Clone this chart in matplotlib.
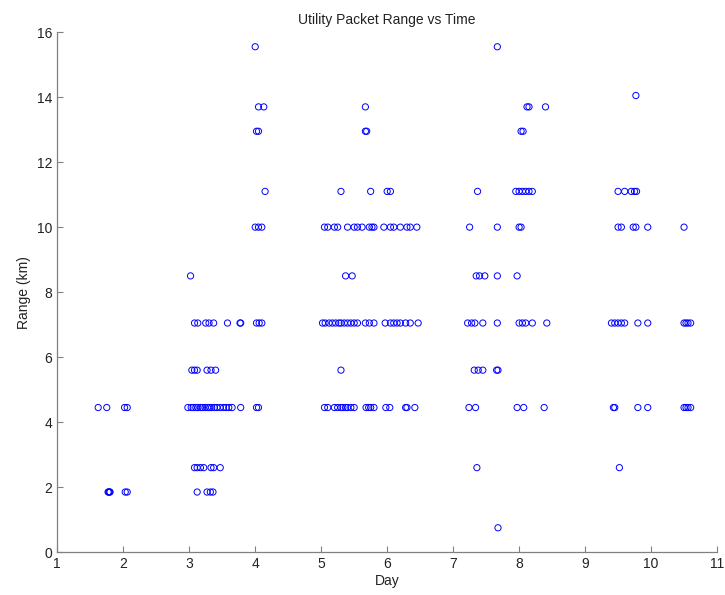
import matplotlib.pyplot as plt

# range levels (km) and the days at which a packet was seen at that range
lvl_0_75 = [7.68]
lvl_1_85 = [1.77, 1.78, 1.79, 1.80, 2.03, 2.06, 3.12, 3.27, 3.32, 3.36]
lvl_2_6 = [3.08, 3.12, 3.17, 3.22, 3.33, 3.37, 3.47, 7.36, 9.52]
lvl_4_45 = [1.62, 1.75, 2.02, 2.06,
            2.98, 3.03, 3.06, 3.10, 3.13, 3.17, 3.20, 3.24, 3.28, 3.31, 3.34, 3.38,
            3.42, 3.47, 3.52, 3.56, 3.60, 3.65, 3.78, 4.02, 4.05,
            5.05, 5.10, 5.20, 5.25, 5.30, 5.33, 5.37, 5.40, 5.45, 5.50, 5.68, 5.72,
            5.75, 5.80, 5.98, 6.04, 6.28, 6.30, 6.42,
            7.24, 7.34, 7.97, 8.07, 8.38, 9.43, 9.45, 9.80, 9.95,
            10.50, 10.53, 10.56, 10.60]
lvl_5_6 = [3.04, 3.08, 3.12, 3.27, 3.33, 3.40, 5.30, 7.32, 7.38, 7.45, 7.66, 7.68]
lvl_7_05 = [3.08, 3.13, 3.25, 3.30, 3.37, 3.58, 3.77, 3.78, 4.02, 4.06, 4.10,
            5.02, 5.06, 5.12, 5.17, 5.22, 5.27, 5.30, 5.35, 5.40, 5.45, 5.50, 5.55,
            5.67, 5.73, 5.80, 5.97, 6.05, 6.10, 6.15, 6.20, 6.28, 6.35, 6.47,
            7.22, 7.28, 7.33, 7.45, 7.67, 8.00, 8.05, 8.10, 8.20, 8.42,
            9.40, 9.45, 9.50, 9.55, 9.60, 9.80, 9.95,
            10.50, 10.53, 10.56, 10.60]
lvl_8_5 = [3.02, 5.37, 5.47, 7.35, 7.40, 7.48, 7.67, 7.97]
lvl_10 = [4.00, 4.05, 4.10,
          5.05, 5.10, 5.20, 5.25, 5.40, 5.50, 5.55, 5.62, 5.73, 5.77, 5.80,
          5.95, 6.05, 6.10, 6.20, 6.30, 6.35, 6.45,
          7.25, 7.67, 8.00, 8.03, 9.50, 9.55, 9.73, 9.77, 9.95, 10.50]
lvl_11_1 = [4.15, 5.30, 5.75, 6.00, 6.05, 7.37,
            7.95, 8.00, 8.05, 8.10, 8.15, 8.20, 9.50, 9.60, 9.70, 9.75, 9.78]
lvl_12_95 = [4.02, 4.05, 5.67, 5.69, 8.03, 8.06]
lvl_13_7 = [4.05, 4.13, 5.67, 8.12, 8.15, 8.40]
lvl_14_05 = [9.77]
lvl_15_55 = [4.00, 7.67]

levels = [0.75, 1.85, 2.6, 4.45, 5.6, 7.05, 8.5, 10.0, 11.1, 12.95, 13.7, 14.05, 15.55]
days_by_level = [lvl_0_75, lvl_1_85, lvl_2_6, lvl_4_45, lvl_5_6, lvl_7_05, lvl_8_5,
                 lvl_10, lvl_11_1, lvl_12_95, lvl_13_7, lvl_14_05, lvl_15_55]

day = []
rng = []
for lv, ds in zip(levels, days_by_level):
    day += ds
    rng += [lv] * len(ds)

plt.rcParams['font.family'] = ['Liberation Sans', 'DejaVu Sans']
fig = plt.figure(figsize=(7.25, 5.95), dpi=100)
ax = fig.add_axes([0.079, 0.072, 0.91, 0.874])
ax.scatter(day, rng, s=20, facecolors='none', edgecolors='#0000ff', linewidths=0.7)

ax.set_xlim(1, 11)
ax.set_ylim(0, 16)
ax.set_xticks(range(1, 12))
ax.set_yticks(range(0, 17, 2))
ax.tick_params(direction='in', length=4, width=0.8, color='#808080',
               labelsize=10, labelcolor='#222222')
for side in ['top', 'right']:
    ax.spines[side].set_visible(False)
for side in ['left', 'bottom']:
    ax.spines[side].set_color('#808080')
    ax.spines[side].set_linewidth(0.9)

ax.set_title('Utility Packet Range vs Time', fontsize=10, color='#222222', pad=6)
ax.set_xlabel('Day', fontsize=10, color='#222222', labelpad=2)
ax.set_ylabel('Range (km)', fontsize=10, color='#222222', labelpad=4)

fig.savefig('out.png', dpi=100)
